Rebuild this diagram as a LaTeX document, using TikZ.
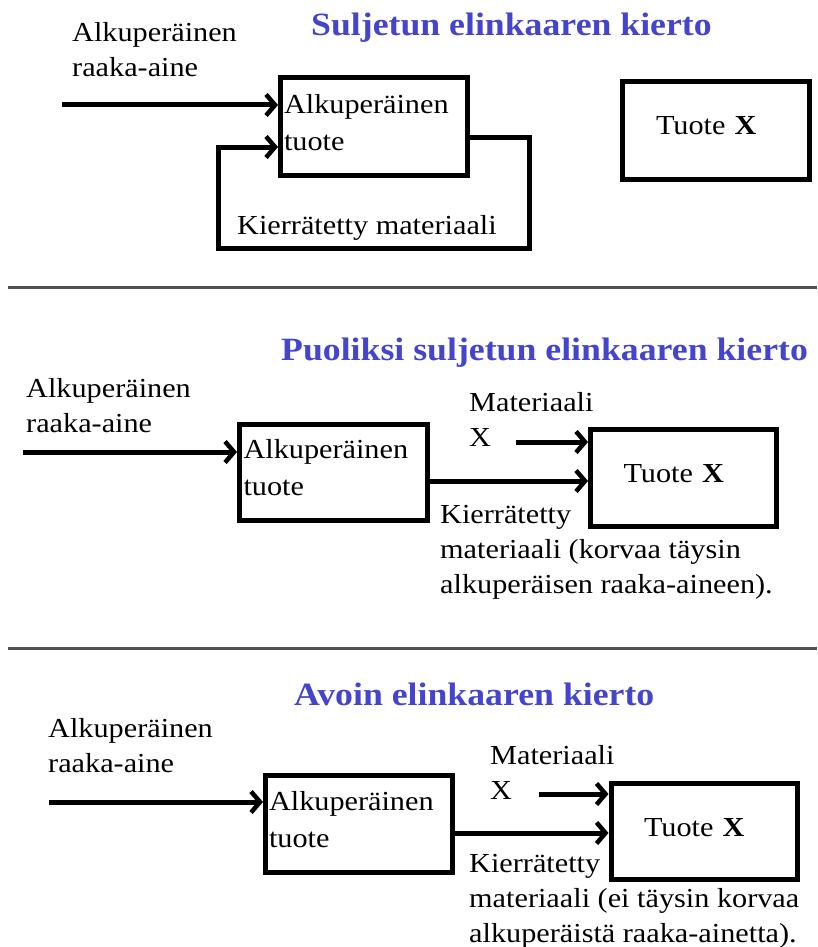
\documentclass[tikz,border=0pt]{standalone}
\usepackage{fontspec}
\setmainfont{Liberation Serif}[FakeStretch=1.1]
\usetikzlibrary{arrows.meta}
\definecolor{titleblue}{RGB}{68,68,204}
\definecolor{rulegray}{RGB}{80,80,80}
\begin{document}
\begin{tikzpicture}[x=1pt,y=1pt,
  txt/.style={inner sep=0pt,anchor=north west,align=left,
    font=\fontsize{27.5}{35}\selectfont},
  heading/.style={inner sep=0pt,anchor=north west,text=titleblue,
    font=\fontsize{32.5}{38}\selectfont\bfseries},
  box/.style={draw,line width=5pt,inner ysep=5pt,
    font=\fontsize{27.5}{37}\selectfont},
  srcbox/.style={box,align=left,inner xsep=2pt,text width=180pt,
    text depth=46pt},
  prodbox/.style={box,align=left,inner xsep=33pt,text width=120pt,
    text height=19pt,text depth=10pt},
  flow/.style={line width=5pt,
    -{Straight Barb[length=9pt,width=21pt,line width=4.5pt]}},
  divider/.style={line width=3pt,draw=rulegray}]
\useasboundingbox (0,0) rectangle (817,-947);

% ---------- closed loop ----------
\node[heading] (t1) at (311,-13) {Suljetun elinkaaren kierto};
\node[txt] (raw1) at (72,-22) {Alkuperäinen\\raaka-aine};
\node[srcbox,minimum width=187pt,minimum height=97pt] (p1) at (374,-126.5)
  {Alkuperäinen\\tuote};
\node[prodbox,minimum width=187pt,minimum height=98pt] (x1) at (716,-130.5)
  {Tuote \textbf{X}};
\coordinate (in1) at (62,-105);
\coordinate (loopR) at (529,-248);
\coordinate (loopL) at (218,-248);
\draw[flow] (in1) -- (in1 -| p1.west);
\draw[flow] ([yshift=-10.5pt]p1.east) -| (loopR) -- (loopL)
  |- ([yshift=-20.5pt]p1.west);
\node[txt] (rec1) at (237,-215) {Kierrätetty materiaali};

\draw[divider] (8,-287) -- (817,-287);

% ---------- semi-closed loop ----------
\node[heading] (t2) at (281,-338) {Puoliksi suljetun elinkaaren kierto};
\node[txt] (raw2) at (26,-378) {Alkuperäinen\\raaka-aine};
\node[srcbox,minimum width=188pt,minimum height=96pt] (p2) at (333.5,-472)
  {Alkuperäinen\\tuote};
\node[prodbox,minimum width=186pt,minimum height=97pt] (x2) at (683.5,-477.5)
  {Tuote \textbf{X}};
\node[txt] (mat2) at (469,-392) {Materiaali\\X};
\coordinate (in2) at (23,-452);
\coordinate (matin2) at (516,-442);
\coordinate (rec2y) at (0,-481);
\draw[flow] (in2) -- (in2 -| p2.west);
\draw[flow] (matin2) -- (matin2 -| x2.west);
\draw[flow] (rec2y -| p2.east) -- (rec2y -| x2.west);
\node[txt] (rec2) at (440,-505)
  {Kierrätetty\\materiaali (korvaa täysin\\alkuperäisen raaka-aineen).};

\draw[divider] (8,-648) -- (817,-648);

% ---------- open loop ----------
\node[heading] (t3) at (294,-683) {Avoin elinkaaren kierto};
\node[txt] (raw3) at (48,-718) {Alkuperäinen\\raaka-aine};
\node[srcbox,minimum width=187pt,minimum height=97pt] (p3) at (359,-824)
  {Alkuperäinen\\tuote};
\node[prodbox,minimum width=185pt,minimum height=96pt] (x3) at (704,-831.5)
  {Tuote \textbf{X}};
\node[txt] (mat3) at (490,-745) {Materiaali\\X};
\coordinate (in3) at (49,-802);
\coordinate (matin3) at (539,-794);
\coordinate (rec3y) at (0,-833);
\draw[flow] (in3) -- (in3 -| p3.west);
\draw[flow] (matin3) -- (matin3 -| x3.west);
\draw[flow] (rec3y -| p3.east) -- (rec3y -| x3.west);
\node[txt] (rec3) at (469,-854)
  {Kierrätetty\\materiaali (ei täysin korvaa\\alkuperäistä raaka-ainetta).};
\end{tikzpicture}
\end{document}
